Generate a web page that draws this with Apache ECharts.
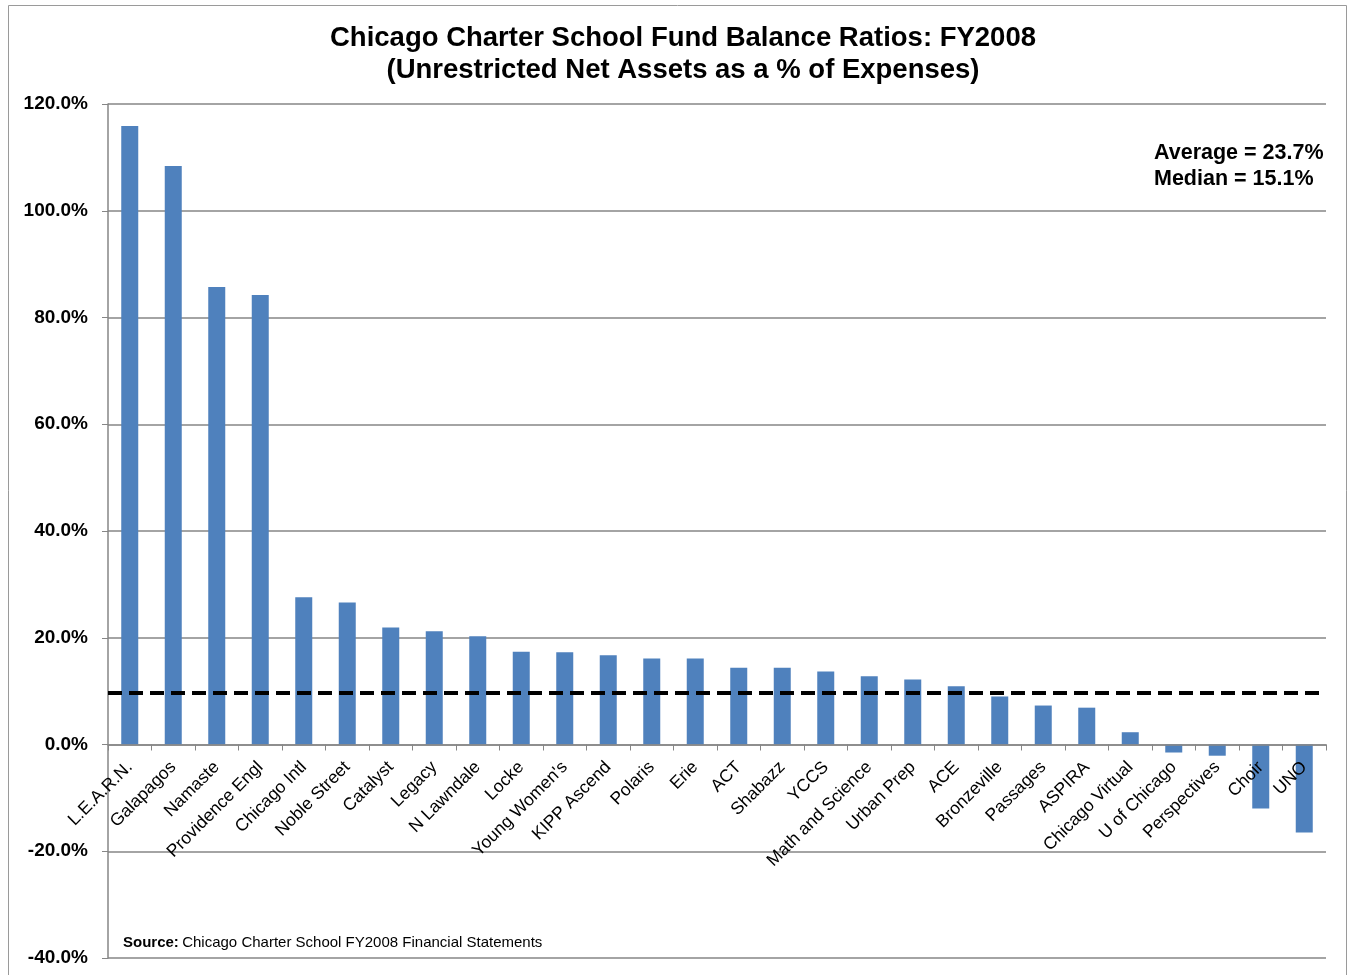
<!DOCTYPE html>
<html>
<head>
<meta charset="utf-8">
<script src="https://cdn.jsdelivr.net/npm/echarts@6/dist/echarts.min.js"></script>
<style>
html,body{margin:0;padding:0;background:#fff;}
#chart{width:1352px;height:975px;}
</style>
</head>
<body>
<div id="chart"></div>
<script>
// schools, sorted by ratio
var schools = ['L.E.A.R.N.','Galapagos','Namaste','Providence Engl','Chicago Intl','Noble Street','Catalyst','Legacy','N Lawndale','Locke',"Young Women's",'KIPP Ascend','Polaris','Erie','ACT','Shabazz','YCCS','Math and Science','Urban Prep','ACE','Bronzeville','Passages','ASPIRA','Chicago Virtual','U of Chicago','Perspectives','Choir','UNO'];
// fund balance ratio, %
var ratios = [115.9,108.4,85.7,84.2,27.6,26.6,21.9,21.2,20.3,17.4,17.3,16.7,16.1,16.1,14.4,14.4,13.7,12.8,12.2,10.9,9.0,7.3,6.9,2.3,-1.5,-2.1,-12.0,-16.5];
var refLine = 9.75;
var yTicks = [-40,-20,0,20,40,60,80,100,120];

var gridTop = 104, gridBottom = 17, chartH = 975;
var plotH = chartH - gridTop - gridBottom;
var yMin = yTicks[0], yMax = yTicks[yTicks.length - 1];
// put the category axis on the 0 line
var zeroOffset = -plotH * (0 - yMin) / (yMax - yMin);

var myChart = echarts.init(document.getElementById('chart'));
var option = {
    animation: false,
    backgroundColor: '#fff',
    title: {
        text: 'Chicago Charter School Fund Balance Ratios: FY2008\n(Unrestricted Net Assets as a % of Expenses)',
        left: 678,
        top: 17,
        textAlign: 'center',
        textStyle: {
            fontFamily: 'Liberation Sans, Arial',
            fontSize: 27.5,
            fontWeight: 'bold',
            color: '#000',
            lineHeight: 32
        }
    },
    grid: {
        left: 108,
        right: 26,
        top: gridTop,
        bottom: gridBottom,
        outerBoundsMode: 'none'
    },
    graphic: [
        {
            type: 'rect',
            shape: {x: 8.5, y: 5.5, width: 1338, height: 975},
            style: {fill: 'none', stroke: '#9a9a9a', lineWidth: 1}
        },
        {
            type: 'text',
            left: 1154,
            top: 140,
            style: {
                text: 'Average = 23.7%\nMedian = 15.1%',
                font: 'bold 21.5px Liberation Sans, Arial',
                lineHeight: 26,
                fill: '#000'
            }
        },
        {
            type: 'text',
            left: 123,
            top: 935,
            style: {
                rich: {
                    b: {font: 'bold 15px Liberation Sans, Arial', fill: '#000'},
                    n: {font: '15px Liberation Sans, Arial', fill: '#000'}
                },
                text: '{b|Source:} {n|Chicago Charter School FY2008 Financial Statements}'
            }
        }
    ],
    xAxis: {
        type: 'category',
        data: schools,
        offset: zeroOffset,
        z: 5,
        axisLine: {onZero: false, lineStyle: {color: '#868686', width: 1.5}},
        axisTick: {show: true, length: 6, lineStyle: {color: '#868686'}},
        axisLabel: {
            rotate: 45,
            interval: 0,
            margin: 20,
            fontFamily: 'Liberation Sans, Arial',
            fontSize: 17.5,
            color: '#000'
        }
    },
    yAxis: {
        type: 'value',
        min: yMin,
        max: yMax,
        interval: 20,
        axisLine: {show: true, lineStyle: {color: '#868686', width: 1.5}},
        axisTick: {show: true, length: 6, lineStyle: {color: '#868686'}},
        splitLine: {lineStyle: {color: '#868686', width: 1.5}},
        axisLabel: {
            margin: 20,
            fontFamily: 'Liberation Sans, Arial',
            fontSize: 19,
            fontWeight: 'bold',
            color: '#000',
            formatter: function (v) { return v.toFixed(1) + '%'; }
        }
    },
    series: [
        {
            type: 'bar',
            data: ratios,
            barWidth: 17,
            itemStyle: {color: '#4F81BD'},
            markLine: {
                silent: true,
                symbol: 'none',
                label: {show: false},
                lineStyle: {color: '#000', type: [14, 7], width: 4},
                data: [{yAxis: refLine}]
            }
        }
    ]
};
myChart.setOption(option);
</script>
</body>
</html>
